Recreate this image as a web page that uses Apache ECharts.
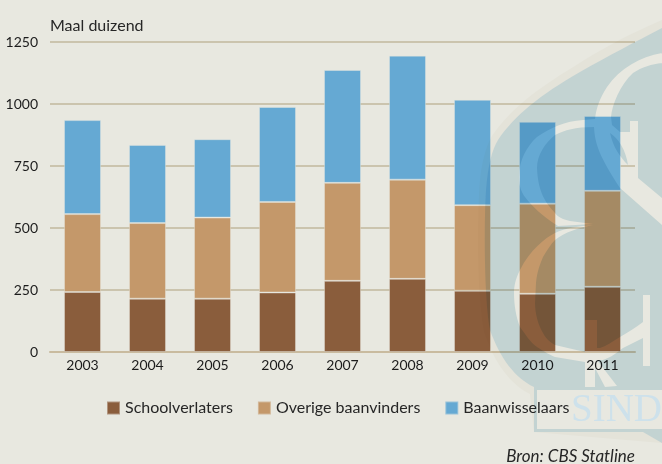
<!DOCTYPE html>
<html>
<head>
<meta charset="utf-8">
<style>
html,body{margin:0;padding:0;background:#e8e8e0;}
#main{width:662px;height:464px;}
</style>
<script src="https://cdn.jsdelivr.net/npm/echarts@6/dist/echarts.min.js"></script>
</head>
<body>
<div id="main"></div>
<script>
var years = ['2003','2004','2005','2006','2007','2008','2009','2010','2011']
var schoolverlaters = [242,215,215,240,287,295,247,235,263]
var overige = [314,305,327,365,395,400,345,363,387]
var baanwisselaars = [379,315,316,383,455,500,425,330,302]

var fontName = 'Lato'

// watermark over the figures, only decoration
var shieldOutline = 'M662,28 L662,443 L643,432 L534,432 L534,387 C515,378 500,358 490,330 C484,300 484,220 486,190 C488,165 492,150 498,140 C515,115 540,95 580,72 C610,55 635,42 662,28 Z '
var shieldPath = shieldOutline
  + 'M537,390 L537,429 L662,429 L662,390 Z '
  + 'M662,53 C640,57 620,68 607,87 C600,98 596,108 595,119 L583,120 C565,121 550,128 537,137 C527,146 519,160 519,177 C519,187 522,193 525,197 C532,206 542,216 558,226 L593,224 L570,221 C562,219 558,217 555,213 C546,203 538,193 537,168 C537,155 545,143 555,135 C565,130 575,127 594,127 C595,145 600,157 620,188 L662,225 L662,198 L638,178 L638,121 L630,121 L630,132 L620,132 L612,125 L611,117 C612,105 620,85 633,73 C642,67 652,64 662,63 Z '
  + 'M610,133 C618,138 626,150 628,165 C620,157 613,147 610,133 Z '
  + 'M593,225 C580,226 565,228 555,233 C545,238 530,250 520,270 C515,280 514,287 514,293 C514,305 516,317 520,327 C526,335 530,342 537,347 C545,352 550,355 555,357 L585,362 L585,387 L595,387 L595,368 L605,387 L617,386 L597,360 L603,360 C610,358 618,352 623,348 L643,338 L643,366 L650,366 L650,295 L643,295 L643,322 C635,328 628,332 620,337 C612,342 606,346 600,348 L597,348 L597,320 L585,320 L585,352 L555,345 C548,341 545,337 543,333 C538,325 535,313 535,303 L536,283 C537,272 540,264 543,257 C547,250 551,244 555,240 C565,232 578,228 593,225 Z'
// thin band round the shield
var haloPath = 'M662,20 C625,36 600,50 575,66 C535,90 510,110 492,136 C484,150 480,170 479,195 C477,240 478,300 484,332 C494,362 510,384 530,394 L534,432 L662,443 Z '
  + shieldOutline

function drawWatermark(params, api){
    return {
        type: 'group',
        children: [
            {
                type: 'path',
                shape: { pathData: haloPath },
                style: { fill: 'rgb(251,250,247)' }
            },
            {
                type: 'path',
                shape: { pathData: shieldPath },
                style: { fill: 'rgb(215,232,240)' }
            },
            {
                type: 'text',
                x: 571, y: 391,
                style: { text: 'SIND', font: '39px "Liberation Serif"', fill: 'rgb(205,225,235)' }
            }
        ]
    }
}

var myChart = echarts.init(document.getElementById('main'))
var option = {
    animation: false,
    backgroundColor: '#e8e8e0',
    textStyle: { fontFamily: fontName },
    title: [
        {
            text: 'Maal duizend', left: 45, top: 13,
            textStyle: { fontFamily: fontName, fontSize: 16, fontWeight: 'normal', color: '#262626' }
        },
        {
            text: 'Bron: CBS Statline', right: 22, top: 443,
            textStyle: { fontFamily: fontName, fontSize: 17, fontWeight: 'normal', fontStyle: 'italic', color: '#262626' }
        }
    ],
    legend: {
        left: 101, top: 395,
        itemWidth: 13, itemHeight: 13, itemGap: 24,
        icon: 'rect',
        textStyle: { fontFamily: fontName, fontSize: 16, color: '#262626' },
        data: ['Schoolverlaters', 'Overige baanvinders', 'Baanwisselaars']
    },
    grid: { left: 50, right: 27, top: 42, bottom: 112 },
    xAxis: {
        type: 'category',
        data: years,
        axisTick: { show: false },
        axisLine: { lineStyle: { color: '#c9bb9f', width: 2 } },
        axisLabel: { color: '#1c1c1c', fontSize: 14, margin: 6 }
    },
    yAxis: {
        type: 'value',
        min: 0, max: 1250, interval: 250,
        axisLine: { show: false },
        axisTick: { show: false },
        axisLabel: {
            color: '#1c1c1c', fontSize: 14, margin: 12,
            formatter: function(value){ return String(value) }
        },
        splitLine: { lineStyle: { color: '#cbc4ae', width: 2 } }
    },
    series: [
        {
            name: 'Schoolverlaters', type: 'bar', stack: 'totaal', barWidth: 37,
            itemStyle: { color: '#8a5d3c', borderColor: 'rgba(232,232,224,0.4)', borderWidth: 1 },
            data: schoolverlaters
        },
        {
            name: 'Overige baanvinders', type: 'bar', stack: 'totaal', barWidth: 37,
            itemStyle: { color: '#c4986a', borderColor: 'rgba(232,232,224,0.4)', borderWidth: 1 },
            data: overige
        },
        {
            name: 'Baanwisselaars', type: 'bar', stack: 'totaal', barWidth: 37,
            itemStyle: { color: '#65a9d3', borderColor: 'rgba(232,232,224,0.4)', borderWidth: 1 },
            data: baanwisselaars
        },
        {
            name: 'watermerk', type: 'custom', coordinateSystem: 'none', silent: true, z: 100,
            blendMode: 'multiply',
            renderItem: drawWatermark,
            data: [0]
        }
    ]
}
myChart.setOption(option)
</script>
</body>
</html>
